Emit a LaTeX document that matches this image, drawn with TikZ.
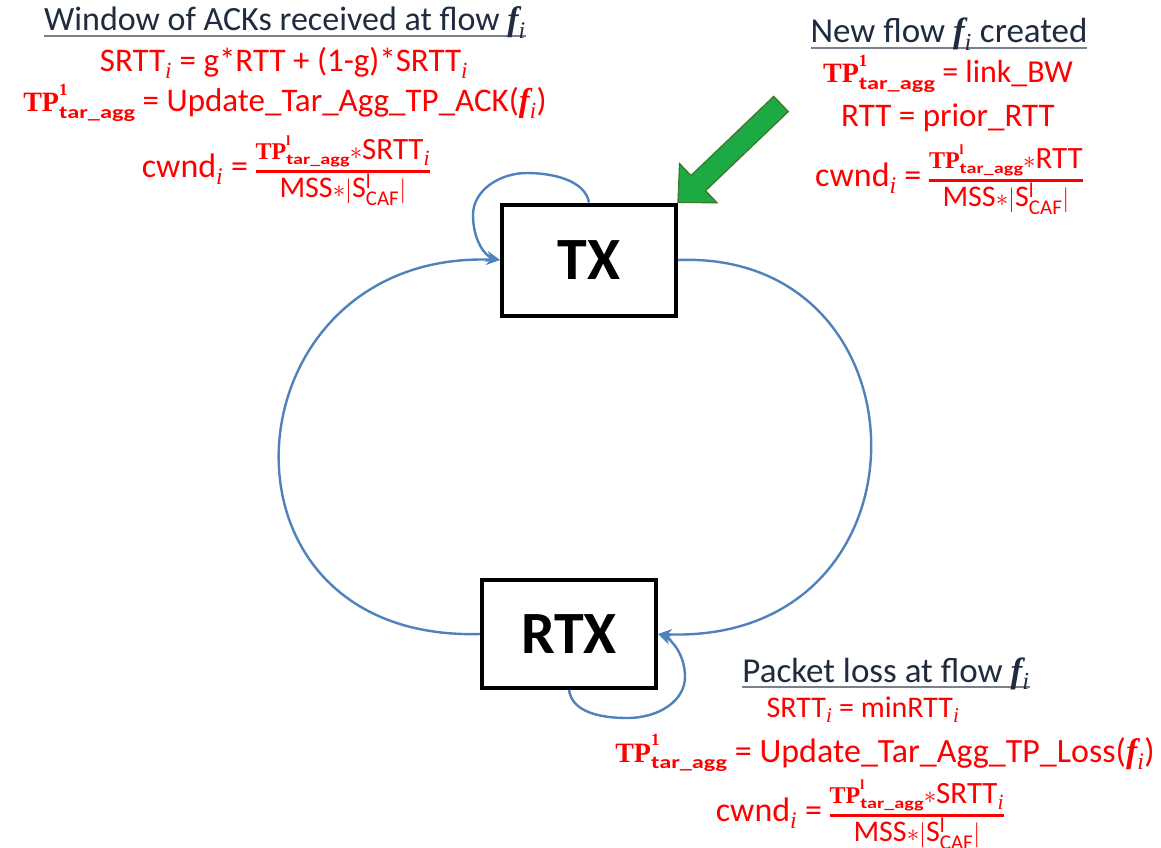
\documentclass[tikz,border=0pt]{standalone}
\usepackage{fontspec}
\usepackage{amsmath}
\usepackage{graphicx}
\setmainfont{Carlito}
\newfontfamily\sermath{Liberation Serif}
\usetikzlibrary{arrows.meta,calc}

\definecolor{flowblue}{HTML}{4F81BD}
\definecolor{headink}{HTML}{1F2B3E}
\definecolor{greenfill}{HTML}{1DAA45}
\definecolor{greenedge}{HTML}{3C7A2A}

\newcommand\fsz[1]{\fontsize{#1}{#1}\selectfont}
% italic index i and flow symbol f_i
\newcommand\ix{\text{\sermath\itshape i}}
\newcommand\fl{{\sermath\bfseries\itshape f}$_{\ix}$}
% heading underline: a grey bar under the whole text
\newcommand\hdul[1]{\setbox0\hbox{#1}\rlap{\color{headink!60}\rule[-6pt]{\wd0}{2pt}}\box0}
% target aggregate throughput: #1 superscript, #2 letter size, #3 superscript size, #4 subscript size
\newcommand\TPt[4]{{\fsz{#2}\sermath\bfseries TP}%
  \rlap{\raisebox{0.58\dimexpr#2pt\relax}{\fsz{#3}\sermath\bfseries #1}}%
  \raisebox{-0.22\dimexpr#2pt\relax}{\scalebox{1.35}[1]{\fsz{#4}\bfseries tar\_agg}}}
% stacked fraction with a heavy bar, centred on the math axis
\newcommand\frc[2]{$\vcenter{\hbox{\setlength\arrayrulewidth{2.6pt}%
  \begin{tabular}{@{}c@{}}\rule[-11pt]{0pt}{11pt}#1\\\hline\rule{0pt}{24pt}#2\end{tabular}}}$}
% congestion window formula; #1 numerator tail
\newcommand\cwnd[1]{cwnd$_{\ix}$ = {\fsz{28}\frc{\fsz{31}\TPt{l}{24}{14}{15}$\ast$#1}%
  {\fsz{30}MSS$\ast$$|$S$^{\text{l}}_{\text{CAF}}$$|$}}}

\tikzset{
  statebox/.style={draw=black, line width=4pt, fill=white, minimum width=174pt,
    font=\fontsize{60}{62}\selectfont\bfseries},
  eqn/.style={anchor=base, text=red, inner sep=0pt},
  heading/.style={anchor=base, text=headink, font=\fsz{34}, inner sep=0pt},
  flowline/.style={draw=flowblue, line width=2.4pt, -{Stealth[length=14pt,width=11pt]}},
}

\begin{document}
\begin{tikzpicture}[x=1pt, y=-1pt]
\useasboundingbox (0,0) rectangle (1161,848);

% states
\node[statebox, minimum height=111pt] (TX) at (589,260) {TX};
\node[statebox, minimum height=108pt] (RTX) at (569,634) {RTX};

% transitions between the states
\draw[flowline] (RTX.west) .. controls (195,642) and (225,250) .. (TX.west);
\draw[flowline] (TX.east) .. controls (935,250) and (940,645) .. (RTX.east);

% self loops
\draw[flowline] (TX.north) .. controls (585,180) and (552,173) .. (527,173)
  .. controls (500,173) and (473,190) .. (473,215)
  .. controls (473,240) and (485,256) .. (TX.west);
\draw[flowline] (RTX.south) .. controls (572,712) and (600,718) .. (627,718)
  .. controls (660,718) and (685,700) .. (685,677)
  .. controls (685,655) and (672,640) .. (RTX.east);

% new-flow entry arrow into TX
\coordinate (tip) at (TX.north east);
\coordinate (tail) at (781,104);
\coordinate (hb) at ($(tip)!28pt!(tail)$);
\filldraw[fill=greenfill, draw=greenedge, line width=1.3pt, line join=miter]
  (tip)
  -- ($(hb)!27pt!90:(tail)$)
  -- ($(hb)!10.5pt!90:(tail)$)
  -- ($(tail)!10.5pt!-90:(tip)$)
  -- ($(tail)!10.5pt!90:(tip)$)
  -- ($(hb)!10.5pt!-90:(tail)$)
  -- ($(hb)!27pt!-90:(tail)$)
  -- cycle;

% ACK window update
\node[heading] (h1) at (285,31) {\hdul{Window of ACKs received at flow \fl}};
\node[eqn, font=\fsz{33}] (a1) at (284,72) {SRTT$_{\ix}$ = g*RTT + (1-g)*SRTT$_{\ix}$};
\node[eqn, font=\fsz{33}] (a2) at (285,112) {\TPt{1}{28}{17}{18} = Update\_Tar\_Agg\_TP\_ACK(\fl)};
\node[eqn, font=\fsz{34}] (a3) at (286,177) {\cwnd{SRTT$_{\ix}$}};

% new flow creation
\node[heading, font=\fsz{35}] (h2) at (949,43) {\hdul{New flow \fl\ created}};
\node[eqn, font=\fsz{32}] (b1) at (948,83) {\TPt{1}{28}{17}{18} = link\_BW};
\node[eqn, font=\fsz{33}] (b2) at (948,127) {RTT = prior\_RTT};
\node[eqn, font=\fsz{34}] (b3) at (949,186) {\cwnd{RTT}};

% packet loss handling
\node[heading, font=\fsz{35}] (h3) at (886,682) {\hdul{Packet loss at flow \fl}};
\node[eqn, font=\fsz{30}] (c1) at (863,717) {SRTT$_{\ix}$ = minRTT$_{\ix}$};
\node[eqn, font=\fsz{34}] (c2) at (885,762) {\TPt{1}{28}{17}{18} = Update\_Tar\_Agg\_TP\_Loss(\fl)};
\node[eqn, font=\fsz{34}] (c3) at (860,821) {\cwnd{SRTT$_{\ix}$}};
\end{tikzpicture}
\end{document}
